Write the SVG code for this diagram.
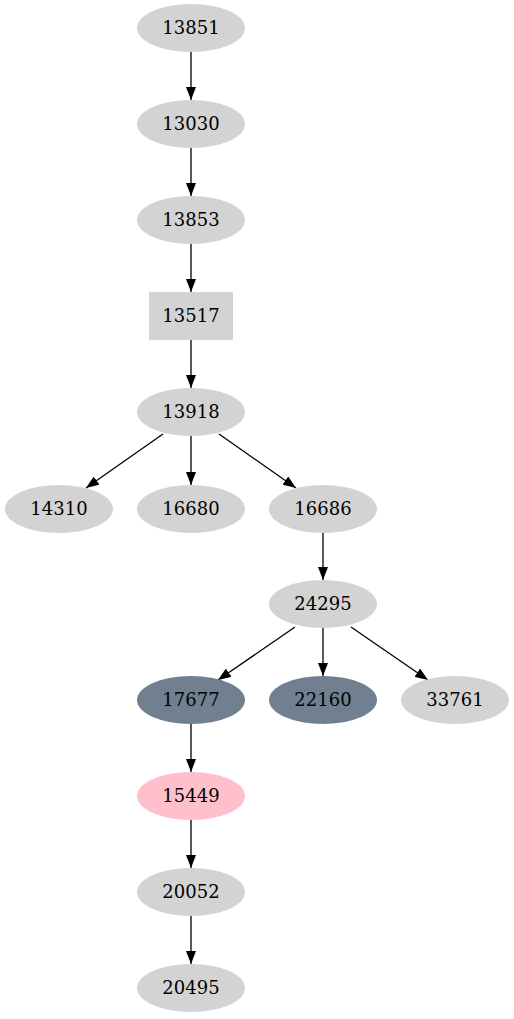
<svg xmlns="http://www.w3.org/2000/svg" width="514" height="1019" viewBox="0 0 514 1019">
<style>
.n{fill:#d3d3d3;stroke:none}
.s{fill:#708090;stroke:none}
.p{fill:#ffc0cb;stroke:none}
text{font-family:"DejaVu Serif","Liberation Serif",serif;font-size:18px;text-anchor:middle;fill:#000}
.e{stroke:#000;stroke-width:1.3;fill:none;marker-end:url(#a)}
</style>
<defs>
<marker id="a" viewBox="0 0 13 10" refX="13" refY="5" markerWidth="13" markerHeight="10" orient="auto" markerUnits="userSpaceOnUse">
<path d="M0,0 L13,5 L0,10 z" fill="#000"/>
</marker>
</defs>
<rect width="514" height="1019" fill="#fff"/>
<g id="edges">
<line class="e" x1="191" y1="52" x2="191" y2="100"/>
<line class="e" x1="191" y1="148" x2="191" y2="196"/>
<line class="e" x1="191" y1="244" x2="191" y2="292"/>
<line class="e" x1="191" y1="340" x2="191" y2="388"/>
<line class="e" x1="163" y1="434" x2="86" y2="488"/>
<line class="e" x1="191" y1="436" x2="191" y2="485"/>
<line class="e" x1="219" y1="434" x2="296" y2="488"/>
<line class="e" x1="323" y1="532" x2="323" y2="580"/>
<line class="e" x1="295" y1="627" x2="218" y2="680"/>
<line class="e" x1="323" y1="628" x2="323" y2="676"/>
<line class="e" x1="351" y1="627" x2="428" y2="680"/>
<line class="e" x1="191" y1="724" x2="191" y2="772"/>
<line class="e" x1="191" y1="820" x2="191" y2="868"/>
<line class="e" x1="191" y1="916" x2="191" y2="964"/>
</g>
<g id="n13851"><ellipse class="n" cx="191" cy="28" rx="54" ry="24"/><text x="191" y="34">13851</text></g>
<g id="n13030"><ellipse class="n" cx="191" cy="124" rx="54" ry="24"/><text x="191" y="130">13030</text></g>
<g id="n13853"><ellipse class="n" cx="191" cy="220" rx="54" ry="24"/><text x="191" y="226">13853</text></g>
<g id="n13517"><rect class="n" x="149" y="292" width="84" height="48"/><text x="191" y="322">13517</text></g>
<g id="n13918"><ellipse class="n" cx="191" cy="412" rx="54" ry="24"/><text x="191" y="418">13918</text></g>
<g id="n14310"><ellipse class="n" cx="59" cy="509" rx="54" ry="24"/><text x="59" y="515">14310</text></g>
<g id="n16680"><ellipse class="n" cx="191" cy="509" rx="54" ry="24"/><text x="191" y="515">16680</text></g>
<g id="n16686"><ellipse class="n" cx="323" cy="509" rx="54" ry="24"/><text x="323" y="515">16686</text></g>
<g id="n24295"><ellipse class="n" cx="323" cy="604" rx="54" ry="24"/><text x="323" y="610">24295</text></g>
<g id="n17677"><ellipse class="s" cx="191" cy="700" rx="54" ry="24"/><text x="191" y="706">17677</text></g>
<g id="n22160"><ellipse class="s" cx="323" cy="700" rx="54" ry="24"/><text x="323" y="706">22160</text></g>
<g id="n33761"><ellipse class="n" cx="455" cy="700" rx="54" ry="24"/><text x="455" y="706">33761</text></g>
<g id="n15449"><ellipse class="p" cx="191" cy="796" rx="54" ry="24"/><text x="191" y="802">15449</text></g>
<g id="n20052"><ellipse class="n" cx="191" cy="892" rx="54" ry="24"/><text x="191" y="898">20052</text></g>
<g id="n20495"><ellipse class="n" cx="191" cy="988" rx="54" ry="24"/><text x="191" y="994">20495</text></g>
</svg>
